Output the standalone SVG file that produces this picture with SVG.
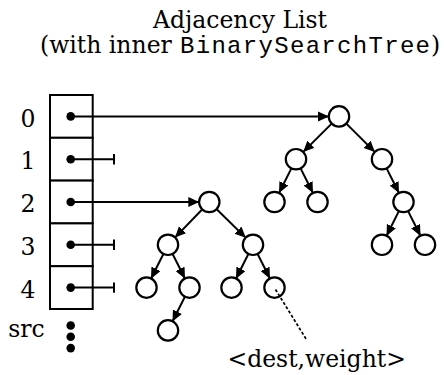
<svg xmlns="http://www.w3.org/2000/svg" width="444" height="375" viewBox="0 0 444 375">
  <style>
    .serif { font-family: "DejaVu Serif", "Liberation Serif", serif; font-size: 23.5px; fill: #000; }
    .mono { font-family: "Liberation Mono", "DejaVu Sans Mono", monospace; font-size: 24px; }
    .cell { fill: #fff; stroke: #000; stroke-width: 2; }
    .dot { fill: #000; }
    .node { fill: #fff; stroke: #000; stroke-width: 2.2; }
    .edge { fill: none; stroke: #000; stroke-width: 2; marker-end: url(#arrow); }
    .null { fill: none; stroke: #000; stroke-width: 2; }
    .hint { fill: none; stroke: #000; stroke-width: 1.7; stroke-dasharray: 3 2; }
  </style>
  <defs>
    <marker id="arrow" markerUnits="userSpaceOnUse" markerWidth="12" markerHeight="11" refX="10" refY="5" orient="auto">
      <path d="M0,0 L11,5 L0,10 z" fill="#000"/>
    </marker>
  </defs>

  <rect width="444" height="375" fill="#fff"/>

  <!-- title -->
  <g id="title">
    <text class="serif" x="240" y="28" text-anchor="middle">Adjacency List</text>
    <text class="serif" y="53"><tspan x="40">(with inner </tspan><tspan class="mono" x="180" textLength="250" lengthAdjust="spacing">BinarySearchTree</tspan><tspan x="431">)</tspan></text>
  </g>

  <!-- source vertex array -->
  <g id="array">
    <rect class="cell" x="50" y="95" width="42.7" height="42.8"/>
    <rect class="cell" x="50" y="137.8" width="42.7" height="42.8"/>
    <rect class="cell" x="50" y="180.6" width="42.7" height="42.8"/>
    <rect class="cell" x="50" y="223.4" width="42.7" height="42.8"/>
    <rect class="cell" x="50" y="266.2" width="42.7" height="42.8"/>
    <circle class="dot" cx="70.7" cy="116.4" r="4.3"/>
    <circle class="dot" cx="70.7" cy="159.2" r="4.3"/>
    <circle class="dot" cx="70.7" cy="202" r="4.3"/>
    <circle class="dot" cx="70.7" cy="244.8" r="4.3"/>
    <circle class="dot" cx="70.7" cy="287.6" r="4.3"/>
    <circle class="dot" cx="70.7" cy="325.5" r="4.3"/>
    <circle class="dot" cx="70.7" cy="336.8" r="4.3"/>
    <circle class="dot" cx="70.7" cy="348.1" r="4.3"/>
  </g>

  <g id="labels">
    <text class="serif" x="28" y="126.5" text-anchor="middle">0</text>
    <text class="serif" x="28" y="169.3" text-anchor="middle">1</text>
    <text class="serif" x="28" y="212.1" text-anchor="middle">2</text>
    <text class="serif" x="28" y="254.9" text-anchor="middle">3</text>
    <text class="serif" x="28" y="297.7" text-anchor="middle">4</text>
    <text class="serif" x="26.5" y="337" text-anchor="middle">src</text>
  </g>

  <!-- tree for vertex 0 -->
  <g id="tree0">
    <circle class="node" cx="339" cy="116.4" r="10.2"/>
    <circle class="node" cx="296" cy="159.2" r="10.2"/>
    <circle class="node" cx="382" cy="159.2" r="10.2"/>
    <circle class="node" cx="274.5" cy="202" r="10.2"/>
    <circle class="node" cx="317.5" cy="202" r="10.2"/>
    <circle class="node" cx="403.5" cy="202" r="10.2"/>
    <circle class="node" cx="382" cy="244.8" r="10.2"/>
    <circle class="node" cx="425" cy="244.8" r="10.2"/>
  </g>

  <!-- tree for vertex 2 -->
  <g id="tree2">
    <circle class="node" cx="209.3" cy="202" r="10.2"/>
    <circle class="node" cx="168" cy="244.8" r="10.2"/>
    <circle class="node" cx="253" cy="244.8" r="10.2"/>
    <circle class="node" cx="146.5" cy="287.6" r="10.2"/>
    <circle class="node" cx="189.5" cy="287.6" r="10.2"/>
    <circle class="node" cx="231.5" cy="287.6" r="10.2"/>
    <circle class="node" cx="274.5" cy="287.6" r="10.2"/>
    <circle class="node" cx="168" cy="330.4" r="10.2"/>
  </g>

  <g id="connectors">
    <!-- pointers from the array -->
    <line class="edge" x1="70.7" y1="116.4" x2="328" y2="116.4"/>
    <line class="edge" x1="70.7" y1="202" x2="198.3" y2="202"/>
    <!-- null pointers -->
    <path class="null" d="M70.7,159.2 H114 M114,154 V164.4"/>
    <path class="null" d="M70.7,244.8 H114 M114,239.6 V250"/>
    <path class="null" d="M70.7,287.6 H114 M114,282.4 V292.8"/>

    <!-- tree 0 edges -->
    <line class="edge" x1="331.9" y1="123.4" x2="303.8" y2="151.4"/>
    <line class="edge" x1="346.1" y1="123.4" x2="374.2" y2="151.4"/>
    <line class="edge" x1="291.5" y1="168.1" x2="279.45" y2="192.2"/>
    <line class="edge" x1="300.5" y1="168.1" x2="312.55" y2="192.2"/>
    <line class="edge" x1="386.5" y1="168.1" x2="398.55" y2="192.2"/>
    <line class="edge" x1="399" y1="210.9" x2="386.95" y2="235"/>
    <line class="edge" x1="408" y1="210.9" x2="420.05" y2="235"/>

    <!-- tree 2 edges -->
    <line class="edge" x1="202.35" y1="209.2" x2="175.65" y2="236.9"/>
    <line class="edge" x1="216.45" y1="209" x2="245.1" y2="237.1"/>
    <line class="edge" x1="163.5" y1="253.7" x2="151.46" y2="277.8"/>
    <line class="edge" x1="172.5" y1="253.7" x2="184.54" y2="277.8"/>
    <line class="edge" x1="248.5" y1="253.7" x2="236.46" y2="277.8"/>
    <line class="edge" x1="257.5" y1="253.7" x2="269.54" y2="277.8"/>
    <line class="edge" x1="185" y1="296.5" x2="172.95" y2="320.6"/>

    <!-- annotation leader -->
    <line class="hint" x1="275.5" y1="289.5" x2="306.7" y2="340"/>
  </g>

  <text class="serif" x="316.7" y="366.7" text-anchor="middle">&lt;dest,weight&gt;</text>
</svg>
